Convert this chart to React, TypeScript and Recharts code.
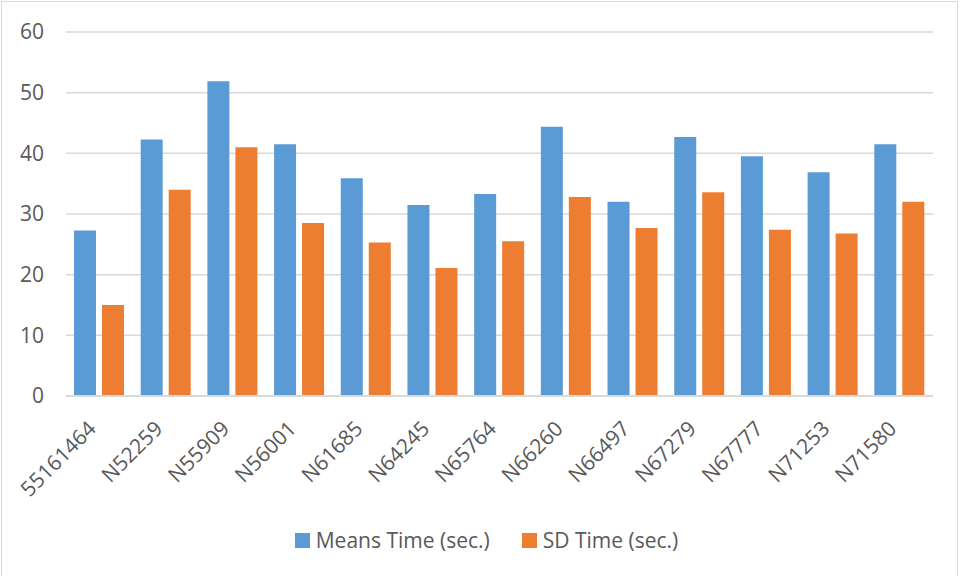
import { Bar, BarChart, CartesianGrid, Legend, XAxis, YAxis } from 'recharts';

const categories = [
  '55161464', 'N52259', 'N55909', 'N56001', 'N61685', 'N64245', 'N65764',
  'N66260', 'N66497', 'N67279', 'N67777', 'N71253', 'N71580',
];
const meansTime = [27.3, 42.3, 51.9, 41.5, 35.9, 31.5, 33.3, 44.4, 32.0, 42.7, 39.5, 36.9, 41.5];
const sdTime = [15.0, 34.0, 41.0, 28.5, 25.3, 21.1, 25.5, 32.8, 27.7, 33.6, 27.4, 26.8, 32.0];
const yTicks = [0, 10, 20, 30, 40, 50, 60];

const data = categories.map((name, i) => ({ name, means: meansTime[i], sd: sdTime[i] }));

const FONT = '"Open Sans", "Noto Sans", sans-serif';
const TEXT = '#595959';
const BLUE = '#5b9bd5';
const ORANGE = '#ed7d31';

const XTick = (props: any) => {
  const { x, y, payload } = props;
  const ax = x - 2;
  const ay = y + 26;
  return (
    <text
      x={ax}
      y={ay}
      transform={`rotate(-45, ${ax}, ${ay})`}
      textAnchor="end"
      fill={TEXT}
      fontSize={21}
      fontFamily={FONT}
    >
      {payload.value}
    </text>
  );
};

const LegendBox = () => (
  <div
    style={{
      display: 'flex', justifyContent: 'center', paddingLeft: 12,
      fontFamily: FONT, fontSize: 21, color: TEXT,
    }}
  >
    <span style={{ display: 'flex', alignItems: 'center', marginRight: 32 }}>
      <span style={{ width: 15, height: 15, background: BLUE, marginRight: 6 }} />
      Means Time (sec.)
    </span>
    <span style={{ display: 'flex', alignItems: 'center' }}>
      <span style={{ width: 15, height: 15, background: ORANGE, marginRight: 6 }} />
      SD Time (sec.)
    </span>
  </div>
);

export default function App() {
  return (
    <div style={{ position: 'absolute', left: 0, top: 0, width: 961, height: 576, background: '#fff' }}>
      <div
        style={{
          position: 'absolute', left: 1, top: 1, width: 957, height: 576,
          border: '1px solid #d9d9d9', boxSizing: 'border-box',
        }}
      />
      <BarChart
        width={961}
        height={576}
        data={data}
        margin={{ top: 32, right: 28, left: 0, bottom: 42 }}
        barSize={22}
        barGap={6}
      >
        <CartesianGrid vertical={false} stroke="#d9d9d9" strokeWidth={1.5} />
        <YAxis
          width={66}
          domain={[0, 60]}
          ticks={yTicks}
          axisLine={false}
          tickLine={false}
          tickMargin={16}
          tick={{ fill: TEXT, fontSize: 21, fontFamily: FONT }}
        />
        <XAxis
          dataKey="name"
          height={110}
          interval={0}
          tickLine={false}
          axisLine={{ stroke: '#d9d9d9', strokeWidth: 2 }}
          tick={<XTick />}
        />
        <Legend
          content={<LegendBox />}
          wrapperStyle={{ position: 'absolute', top: 526, left: 0, width: 961 }}
        />
        <Bar dataKey="means" name="Means Time (sec.)" fill={BLUE} isAnimationActive={false} />
        <Bar dataKey="sd" name="SD Time (sec.)" fill={ORANGE} isAnimationActive={false} />
      </BarChart>
    </div>
  );
}
